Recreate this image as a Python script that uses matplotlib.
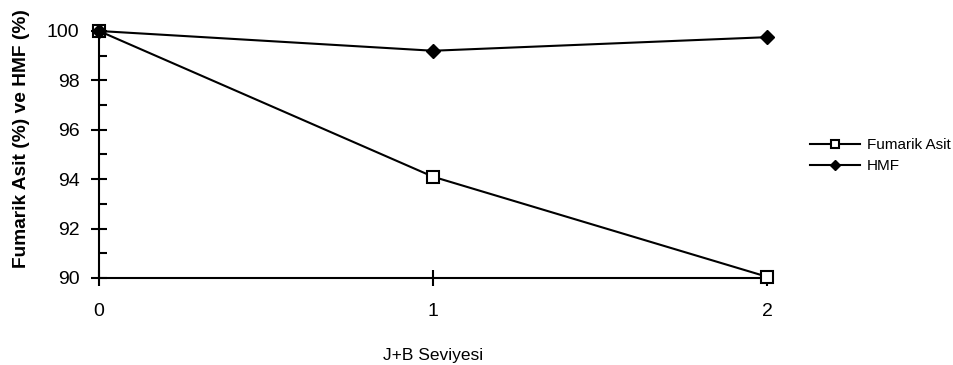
import matplotlib
matplotlib.use("Agg")
import matplotlib.pyplot as plt
from matplotlib.ticker import MultipleLocator

plt.rcParams['font.family'] = ['Liberation Sans', 'DejaVu Sans']

levels = [0, 1, 2]
fumarik_asit = [100.0, 94.1, 90.05]
hmf = [100.0, 99.2, 99.75]
x_ticks = [0, 1, 2]
y_ticks = [90, 92, 94, 96, 98, 100]

fig = plt.figure(figsize=(9.54, 3.65), dpi=100)
ax = fig.add_axes([0.1038, 0.2384, 0.7002, 0.6767])

ax.plot(levels, fumarik_asit, color='black', lw=1.5, marker='s', ms=8,
        mfc='white', mec='black', mew=1.5, label='Fumarik Asit', clip_on=False, zorder=3)
ax.plot(levels, hmf, color='black', lw=1.5, marker='D', ms=7,
        mfc='black', mec='black', label='HMF', clip_on=False, zorder=4)

ax.set_xlim(0, 2)
ax.set_ylim(90, 100)
ax.set_xticks(x_ticks)
ax.set_yticks(y_ticks)
ax.yaxis.set_minor_locator(MultipleLocator(1))

for s in ('top', 'right'):
    ax.spines[s].set_visible(False)
for s in ('left', 'bottom'):
    ax.spines[s].set_linewidth(1.5)

ax.tick_params(axis='both', which='major', direction='inout', length=12, width=1.5,
               labelsize=14)
ax.tick_params(axis='y', which='major', pad=8)
ax.tick_params(axis='y', which='minor', direction='in', length=6, width=1.5)
ax.tick_params(axis='x', which='major', pad=12)

ax.set_xlabel('J+B Seviyesi', fontsize=12.5, labelpad=20)
ax.set_ylabel('Fumarik Asit (%) ve HMF (%)', fontsize=13.8, fontweight='bold')
ax.yaxis.set_label_coords(-0.103, 0.563)

fig.legend(handles=ax.get_lines(), loc='center left', bbox_to_anchor=(810 / 954, 1 - 155.5 / 365),
           frameon=False, fontsize=11, handlelength=3.3, handletextpad=0.4,
           labelspacing=0.45, borderaxespad=0, borderpad=0, markerscale=0.75)

fig.savefig('out.png', dpi=100)
